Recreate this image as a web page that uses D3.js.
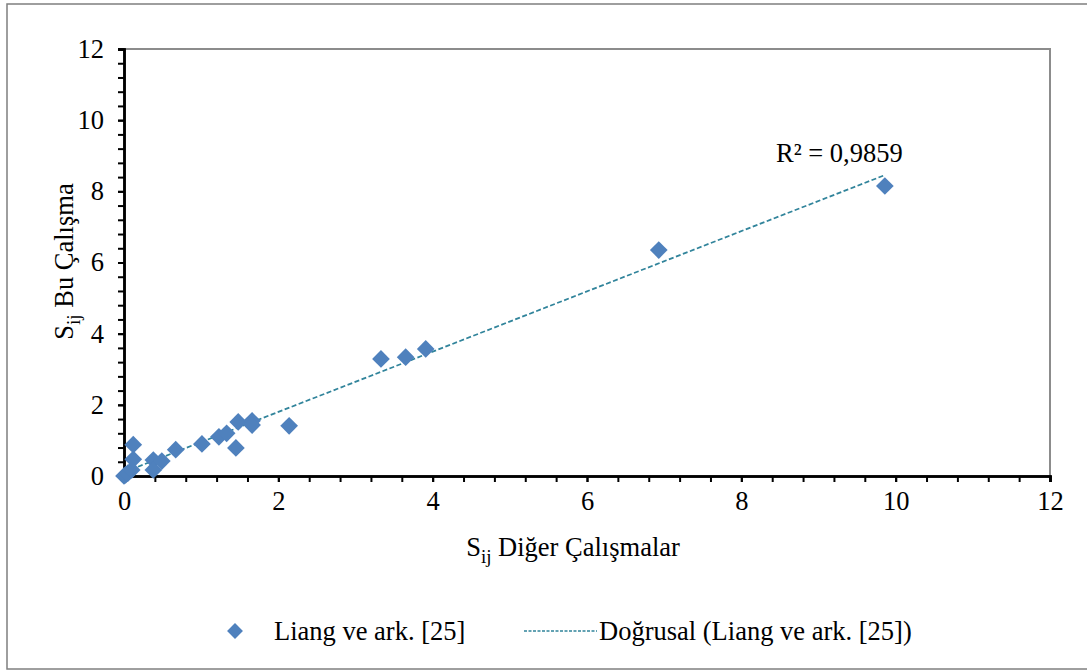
<!DOCTYPE html>
<html lang="tr">
<head>
<meta charset="utf-8">
<title>Sij karşılaştırma</title>
<script src="https://cdn.jsdelivr.net/npm/d3@7"></script>
<style>
  body { margin: 0; background: #fff; }
</style>
</head>
<body>
<div id="chart"></div>
<script>
// values
var seriesName = "Liang ve ark. [25]";
var trendName = "Doğrusal (Liang ve ark. [25])";
var xValues = [0, 0.02, 0.05, 0.10, 0.12, 0.12, 0.38, 0.38, 0.49, 0.67, 1.01, 1.23, 1.33, 1.45, 1.48, 1.66, 1.66, 2.14, 3.33, 3.65, 3.91, 6.93, 9.86];
var yValues = [0, 0.03, 0.08, 0.17, 0.47, 0.88, 0.45, 0.17, 0.42, 0.74, 0.90, 1.10, 1.20, 0.79, 1.52, 1.55, 1.43, 1.41, 3.29, 3.34, 3.57, 6.35, 8.15];
var majorTicks = [0, 2, 4, 6, 8, 10, 12];
var rSquaredText = "R² = 0,9859";

var serif = "Liberation Serif, Times New Roman, serif";
var fs = "26.5px";

var W = 1087, H = 671;
var margin = { top: 49, right: 37, bottom: 195, left: 124 };
var width = W - margin.left - margin.right,
    height = H - margin.top - margin.bottom;

var data = xValues.map(function(x, i) { return { x: x, y: yValues[i] }; });

var x = d3.scaleLinear().domain([0, 12]).range([0, width]);
var y = d3.scaleLinear().domain([0, 12]).range([height, 0]);

var svg = d3.select("#chart").append("svg")
    .attr("width", W)
    .attr("height", H)
    .style("font-family", serif);

// outer chart frame (right edge runs off the picture)
svg.append("rect")
    .attr("x", 7).attr("y", 4)
    .attr("width", W + 20).attr("height", 665)
    .attr("fill", "none")
    .attr("stroke", "#7f7f7f")
    .attr("stroke-width", 1.5);

var g = svg.append("g")
    .attr("transform", "translate(" + margin.left + "," + margin.top + ")");

// plot area border (top/right gray)
g.append("path")
    .attr("d", "M0,0H" + width + "V" + height)
    .attr("fill", "none")
    .attr("stroke", "#8c8c8c")
    .attr("stroke-width", 2);

var minorTicks = d3.range(0, 12.001, 0.4);

// minor ticks
var xMinor = g.append("g")
    .attr("transform", "translate(0," + height + ")")
    .call(d3.axisBottom(x).tickValues(minorTicks).tickSize(6).tickFormat(""));
var yMinor = g.append("g")
    .call(d3.axisLeft(y).tickValues(minorTicks).tickSize(6).tickFormat(""));

// major ticks and labels
var xAxis = g.append("g")
    .attr("transform", "translate(0," + height + ")")
    .call(d3.axisBottom(x).tickValues(majorTicks).tickSize(6).tickPadding(9).tickFormat(d3.format("d")));
var yAxis = g.append("g")
    .call(d3.axisLeft(y).tickValues(majorTicks).tickSize(6).tickPadding(14).tickFormat(d3.format("d")));

[xMinor, yMinor, xAxis, yAxis].forEach(function(a) {
    a.attr("font-family", serif).attr("font-size", fs);
    a.selectAll("line").attr("stroke", "#000").attr("stroke-width", 2);
    a.select(".domain").attr("stroke", "#000").attr("stroke-width", 2.5);
    a.selectAll("text").attr("fill", "#000");
});

// linear trend line, least squares over the series
var mx = d3.mean(xValues), my = d3.mean(yValues);
var sxy = d3.sum(data, function(d) { return (d.x - mx) * (d.y - my); });
var sxx = d3.sum(data, function(d) { return (d.x - mx) * (d.x - mx); });
var slope = sxy / sxx, intercept = my - slope * mx;
var xExt = d3.extent(xValues);

g.append("line")
    .attr("x1", x(xExt[0])).attr("y1", y(intercept + slope * xExt[0]))
    .attr("x2", x(xExt[1])).attr("y2", y(intercept + slope * xExt[1]))
    .attr("stroke", "#31849b")
    .attr("stroke-width", 1.75)
    .attr("stroke-dasharray", "5,2.5");

var diamond = d3.symbol().type(d3.symbolDiamond2).size(200);

g.selectAll(".pt")
    .data(data)
    .enter().append("path")
    .attr("class", "pt")
    .attr("d", diamond)
    .attr("transform", function(d) { return "translate(" + x(d.x) + "," + y(d.y) + ")"; })
    .attr("fill", "#4f81bd");

// R² label
g.append("text")
    .attr("x", x(9.27))
    .attr("y", y(8.83))
    .attr("text-anchor", "middle")
    .style("font-size", fs)
    .text(rSquaredText);

// axis titles
var xt = g.append("text")
    .attr("x", width / 2 - 14)
    .attr("y", height + 80)
    .attr("text-anchor", "middle")
    .style("font-size", fs);
xt.append("tspan").text("S");
xt.append("tspan").attr("dy", 7).style("font-size", "19px").text("ij");
xt.append("tspan").attr("dy", -7).text(" Diğer Çalışmalar");

var yt = g.append("text")
    .attr("transform", "translate(-51," + (height / 2 - 1) + ") rotate(-90)")
    .attr("text-anchor", "middle")
    .style("font-size", fs);
yt.append("tspan").text("S");
yt.append("tspan").attr("dy", 7).style("font-size", "19px").text("ij");
yt.append("tspan").attr("dy", -7).text(" Bu Çalışma");

// legend
var legend = svg.append("g").attr("transform", "translate(0,631)");
legend.append("path")
    .attr("d", d3.symbol().type(d3.symbolDiamond2).size(160))
    .attr("transform", "translate(235,0)")
    .attr("fill", "#4f81bd");
legend.append("text")
    .attr("x", 274).attr("y", 9)
    .style("font-size", fs)
    .text(seriesName);
legend.append("line")
    .attr("x1", 524).attr("x2", 597)
    .attr("y1", 0).attr("y2", 0)
    .attr("stroke", "#31849b")
    .attr("stroke-width", 1.5)
    .attr("stroke-dasharray", "3,1.5");
legend.append("text")
    .attr("x", 599).attr("y", 9)
    .style("font-size", fs)
    .text(trendName);
</script>
</body>
</html>
